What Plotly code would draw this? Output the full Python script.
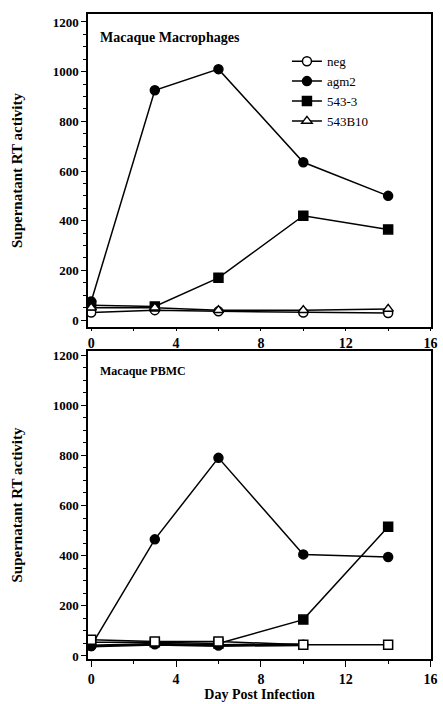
import plotly.graph_objects as go
from plotly.subplots import make_subplots

days = [0, 3, 6, 10, 14]

# Top panel: Macaque Macrophages
mac_neg = [30, 40, 35, 30, 28]
mac_agm2 = [75, 925, 1010, 635, 500]
mac_543_3 = [60, 55, 170, 420, 365]
mac_543B10 = [50, 50, 40, 40, 45]

# Bottom panel: Macaque PBMC
pbmc_days_low = [0, 3, 6, 10]
pbmc_low = [40, 47, 42, 45]
pbmc_agm2 = [40, 465, 790, 405, 395]
pbmc_543_3 = [55, 55, 50, 145, 515]
pbmc_open = [65, 58, 58, 45, 45]

x_ticks = [0, 4, 8, 12, 16]
y_ticks = [0, 200, 400, 600, 800, 1000, 1200]

FONT = "Liberation Serif"

fig = make_subplots(rows=2, cols=1, vertical_spacing=0.0)

def add(x, y, name, symbol, filled, row, show, width=1.5):
    fig.add_trace(go.Scatter(
        x=x, y=y, name=name, mode="lines+markers",
        line=dict(color="black", width=width),
        marker=dict(symbol=symbol, size=9, color="black" if filled else "white",
                    line=dict(color="black", width=1.5)),
        showlegend=show,
    ), row=row, col=1)

add(days, mac_neg, "neg", "circle", False, 1, True)
add(days, mac_agm2, "agm2", "circle", True, 1, True)
add(days, mac_543_3, "543-3", "square", True, 1, True)
add(days, mac_543B10, "543B10", "triangle-up", False, 1, True)

add(pbmc_days_low, pbmc_low, "low", "circle", True, 2, False, width=3)
add(days, pbmc_agm2, "agm2", "circle", True, 2, False)
add(days, pbmc_543_3, "543-3", "square", True, 2, False)
add(days, pbmc_open, "neg", "square", False, 2, False)

axis_common = dict(
    showline=True, linecolor="black", linewidth=1.5, mirror=True,
    ticks="outside", tickwidth=1.2, tickcolor="black",
    showgrid=False, zeroline=False, automargin=False,
)
tick_font_x = dict(family=FONT, size=14, color="black", weight="bold")
tick_font_y = dict(family=FONT, size=13, color="black", weight="bold")
ytitle_font = dict(family=FONT, size=15, color="black", weight="bold")

fig.update_xaxes(range=[-0.15, 16.02], tickvals=x_ticks, tickfont=tick_font_x, ticklen=2,
                 minor=dict(dtick=2, ticks="outside", ticklen=2, tickcolor="black"),
                 row=1, col=1, **axis_common)
fig.update_xaxes(range=[-0.15, 16.02], tickvals=x_ticks, tickfont=tick_font_x, ticklen=6,
                 minor=dict(dtick=2, ticks="outside", ticklen=3, tickcolor="black"),
                 title=dict(text="Day Post Infection", standoff=1,
                            font=dict(family=FONT, size=14, color="black", weight="bold")),
                 row=2, col=1, **axis_common)
fig.update_yaxes(range=[-28, 1232], tickvals=y_ticks, tickfont=tick_font_y, ticklen=5,
                 minor=dict(dtick=50, ticks="outside", ticklen=3, tickcolor="black"),
                 title=dict(text="Supernatant RT activity", standoff=26, font=ytitle_font),
                 domain=[0.5147, 1.0], row=1, col=1, **axis_common)
fig.update_yaxes(range=[-12, 1216], tickvals=y_ticks, tickfont=tick_font_y, ticklen=5,
                 minor=dict(dtick=50, ticks="outside", ticklen=3, tickcolor="black"),
                 title=dict(text="Supernatant RT activity", standoff=26, font=ytitle_font),
                 domain=[0.0, 0.4775], row=2, col=1, **axis_common)

fig.add_annotation(text="Macaque Macrophages", xref="x domain", yref="y domain",
                   x=0.03, y=0.925, xanchor="left", yanchor="middle", showarrow=False,
                   font=dict(family=FONT, size=14, color="black", weight="bold"))
fig.add_annotation(text="Macaque PBMC", xref="x2 domain", yref="y2 domain",
                   x=0.03, y=0.935, xanchor="left", yanchor="middle", showarrow=False,
                   font=dict(family=FONT, size=12, color="black", weight="bold"))

fig.update_layout(
    width=443, height=704,
    margin=dict(l=88, r=12, t=14, b=45),
    paper_bgcolor="white", plot_bgcolor="white",
    font=dict(family=FONT, color="black"),
    legend=dict(x=0.58, y=0.95, xanchor="left", yanchor="top",
                bgcolor="rgba(0,0,0,0)", font=dict(family=FONT, size=13, color="black"),
                tracegroupgap=0, itemwidth=30),
)

fig.write_html("out.html", config={"displayModeBar": False},
               post_script="document.body.style.margin='0';document.body.style.overflow='hidden';")
